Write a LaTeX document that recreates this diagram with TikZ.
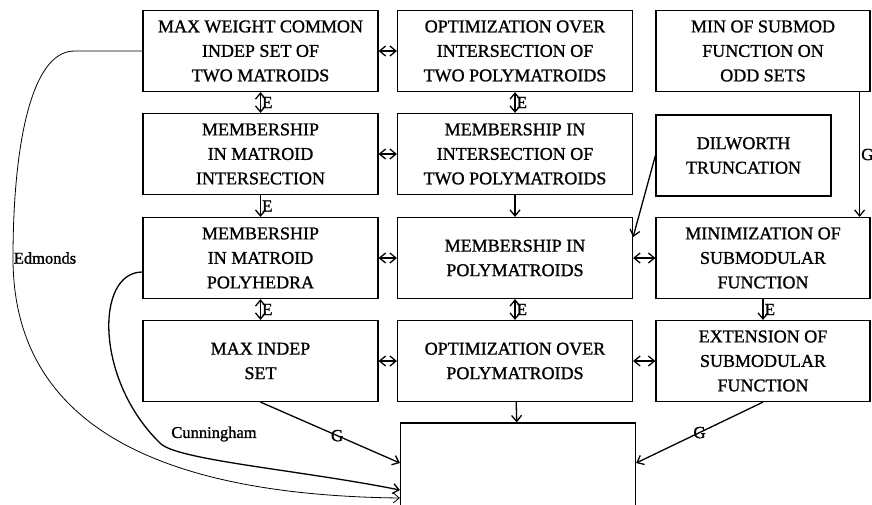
\documentclass[tikz,border=0pt]{standalone}
\usepackage{fontspec}
\setmainfont{Liberation Serif}
\newfontfamily\pfont{Liberation Serif}[FakeBold=1.2]
\usetikzlibrary{positioning,arrows.meta,calc}
\tikzset{pbox/.style={rectangle, draw, line width=1.2pt, minimum width=235pt, minimum height=81pt, inner sep=2pt, align=center, font=\pfont\fontsize{18}{24.5}\selectfont}}
\tikzset{pnarrow/.style={pbox, minimum width=214pt}}
\tikzset{pedge/.style={-{Straight Barb[length=6pt,width=10pt]}, line width=1.3pt}}
\tikzset{pboth/.style={{Straight Barb[length=6pt,width=10pt]}-{Straight Barb[length=6pt,width=10pt]}, line width=1.3pt}}
\tikzset{plabel/.style={font=\pfont\fontsize{17}{17}\selectfont, inner sep=1pt}}
\tikzset{pname/.style={font=\pfont\fontsize{16.5}{16.5}\selectfont, inner sep=0pt}}

\begin{document}
\begin{tikzpicture}[x=1pt, y=-1pt]
  \useasboundingbox (0,0) rectangle (872,504);

  \node[pbox] (maxweight) at (260.5,51) {MAX WEIGHT COMMON\\INDEP SET OF\\TWO MATROIDS};
  \node[pbox] (optint) at (515,51) {OPTIMIZATION OVER\\INTERSECTION OF\\TWO POLYMATROIDS};
  \node[pnarrow] (minodd) at (763,51) {MIN OF SUBMOD\\FUNCTION ON\\ODD SETS};

  \node[pbox] (memmatint) at (260.5,154) {MEMBERSHIP\\IN MATROID\\INTERSECTION};
  \node[pbox] (memintpoly) at (515,154) {MEMBERSHIP IN\\INTERSECTION OF\\TWO POLYMATROIDS};
  \node[pbox, minimum width=175pt] (dilworth) at (743.5,155.5) {DILWORTH\\TRUNCATION};

  \node[pbox] (memmatpoly) at (260.5,258) {MEMBERSHIP\\IN MATROID\\POLYHEDRA};
  \node[pbox] (mempoly) at (515,258) {MEMBERSHIP IN\\POLYMATROIDS};
  \node[pnarrow] (minsub) at (763,258) {MINIMIZATION OF\\SUBMODULAR\\FUNCTION};

  \node[pbox] (maxindep) at (260.5,361) {MAX INDEP\\SET};
  \node[pbox] (optpoly) at (515,361) {OPTIMIZATION OVER\\POLYMATROIDS};
  \node[pnarrow] (extsub) at (763,361) {EXTENSION OF\\SUBMODULAR\\FUNCTION};

  \node[pbox, minimum height=86pt] (target) at (518,466) {};

  \node[pname] (edmonds) at (45,258) {Edmonds};
  \node[pname] (cunningham) at (214,434) {Cunningham};

  % across the rows
  \draw[pboth] (maxweight) -- (optint);
  \draw[pboth] (memmatint) -- (memintpoly);
  \draw[pboth] (memmatpoly) -- (mempoly);
  \draw[pboth] (mempoly) -- (minsub);
  \draw[pboth] (maxindep) -- (optpoly);
  \draw[pboth] (optpoly) -- (extsub);

  % down the columns
  \draw[pboth] (maxweight) -- (memmatint) node[plabel, midway, right] {E};
  \draw[pboth] (optint) -- (memintpoly) node[plabel, midway, right] {E};
  \draw[pedge] (memmatint) -- (memmatpoly) node[plabel, midway, right] {E};
  \draw[pedge] (memintpoly) -- (mempoly);
  \draw[pboth] (memmatpoly) -- (maxindep) node[plabel, midway, right] {E};
  \draw[pboth] (mempoly) -- (optpoly) node[plabel, midway, right] {E};
  \draw[pedge] (minsub) -- (extsub) node[plabel, midway, right] {E};
  \draw[pedge] ([xshift=-11pt]minodd.south east) -- ([xshift=-11pt]minsub.north east) node[plabel, midway, right] {G};
  \draw[pedge] (dilworth.west) -- ([yshift=21pt]mempoly.east);

  % into the bottom box
  \draw[pedge] (optpoly) -- (target);
  \draw[pedge] (maxindep.south) -- ([yshift=3pt]target.west) node[plabel, pos=0.55] {G};
  \draw[pedge] (extsub.south) -- ([yshift=3pt]target.east) node[plabel, pos=0.5] {G};
  \draw[pedge] ([yshift=-14pt]memmatpoly.west) .. controls (95,272) and (95,380) .. (160,443) .. controls (175,460) and (300,470) .. ([yshift=-24pt]target.west);
  \draw[pedge, line width=0.8pt] (maxweight.west) -- ++(-68,0) .. controls (30,51) and (13,150) .. (13,258) .. controls (13,420) and (150,495) .. ([yshift=-32pt]target.west);
\end{tikzpicture}
\end{document}
